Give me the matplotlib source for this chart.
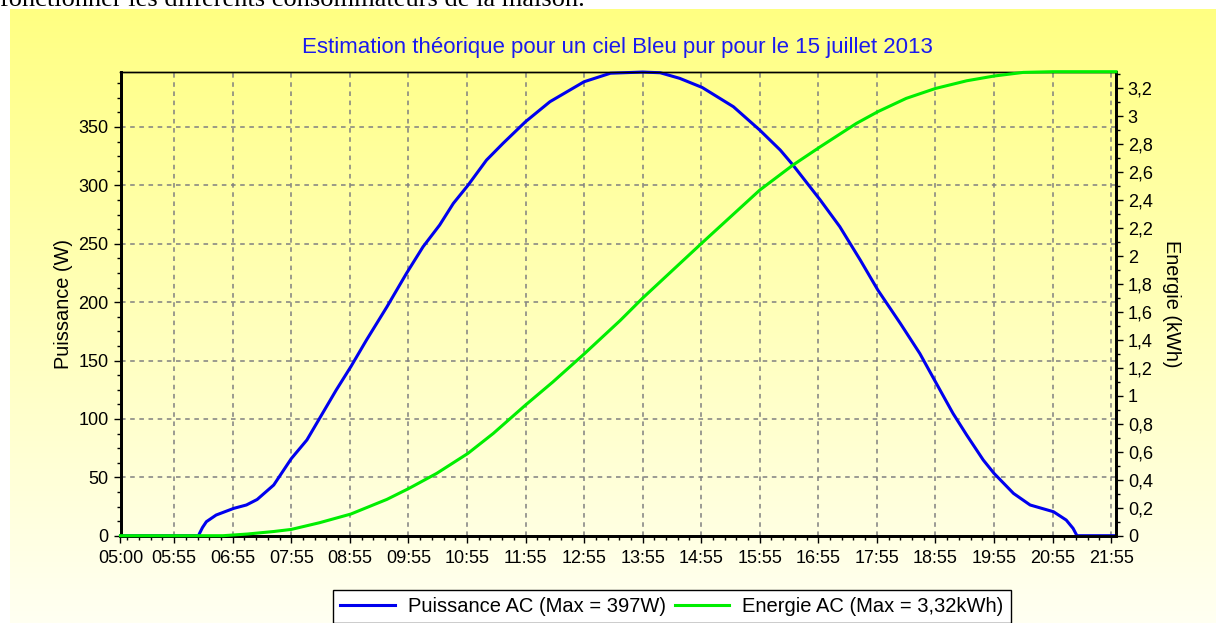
import numpy as np
import matplotlib
matplotlib.use("Agg")
import matplotlib.pyplot as plt
from matplotlib.ticker import FixedLocator, MultipleLocator, FuncFormatter
from matplotlib.lines import Line2D

plt.rcParams["font.family"] = ["Liberation Sans", "DejaVu Sans"]

# Puissance AC (W)
p_time = ["05:00", "06:20", "06:21", "06:24", "06:28", "06:38", "06:56", "07:09", "07:20",
          "07:37", "07:55", "08:11", "08:24", "08:41", "08:56", "09:12", "09:33", "09:53",
          "10:10", "10:27", "10:41", "10:56", "11:15", "11:32", "11:55", "12:20", "12:55",
          "13:22", "13:55", "14:13", "14:33", "14:56", "15:28", "15:55", "16:16", "16:29",
          "16:57", "17:17", "17:38", "17:56", "18:19", "18:39", "18:55", "19:13", "19:27",
          "19:44", "19:55", "20:15", "20:32", "20:56", "21:09", "21:16", "21:20", "22:00"]
p_watt = [0, 0, 2, 7, 12, 17.7, 23.4, 26.3, 31,
          43.4, 66, 82, 100.5, 124.7, 144.7, 167.5, 196, 224.6,
          247.4, 266, 284.5, 300, 321.6, 336, 354.5, 371.6, 388.7,
          396, 397, 396.4, 391.6, 383.8, 367.3, 347.3, 330.2, 317.4,
          287.4, 264.6, 236, 210.3, 181.8, 156, 131.8, 104.7, 86.2,
          64.8, 53.4, 36.2, 26.3, 20.5, 13.4, 6.3, 0, 0]

# Energie AC cumulée (kWh)
e_time = ["05:00", "06:45", "07:10", "07:37", "07:55", "08:24", "08:56", "09:33", "09:56",
          "10:24", "10:56", "11:22", "11:55", "12:23", "12:55", "13:32", "13:55", "14:56",
          "15:55", "16:29", "16:57", "17:34", "17:56", "18:25", "18:55", "19:27", "19:55",
          "20:25", "20:55", "22:00"]
e_kwh = [0, 0, 0.012, 0.03, 0.045, 0.093, 0.155, 0.26, 0.34,
         0.446, 0.589, 0.732, 0.935, 1.10, 1.30, 1.54, 1.70, 2.096,
         2.473, 2.652, 2.783, 2.95, 3.034, 3.129, 3.20, 3.255, 3.289,
         3.315, 3.32, 3.32]

tick_labels = ["05:00", "05:55", "06:55", "07:55", "08:55", "09:55", "10:55", "11:55",
               "12:55", "13:55", "14:55", "15:55", "16:55", "17:55", "18:55", "19:55",
               "20:55", "21:55"]


def to_h(s):
    h, m = s.split(":")
    return int(h) + int(m) / 60.0


W, H = 1216, 623
fig = plt.figure(figsize=(W / 100, H / 100), dpi=100)
fig.patch.set_facecolor("white")

# fond jaune dégradé
bg = fig.add_axes([10 / W, 0, 1 - 10 / W, 1 - 9 / H], zorder=-5)
grad = np.linspace(0, 1, 256)[:, None]
top = np.array([255, 255, 130]) / 255
bot = np.array([255, 255, 242]) / 255
img = top[None, None, :] * (1 - grad[..., None]) + bot[None, None, :] * grad[..., None]
bg.imshow(img, aspect="auto", extent=[0, 1, 0, 1])
bg.axis("off")

# texte du document, coupé en haut comme sur la capture
fig.text(0 / W, 1 - 6 / H, "fonctionner les différents consommateurs de la maison.",
         family=["Liberation Serif", "DejaVu Serif"], fontsize=19, va="baseline", ha="left")

ax = fig.add_axes([120.5 / W, 1 - 535.7 / H, (1116 - 120.5) / W, (535.7 - 71.7) / H])
ax.patch.set_alpha(0)
ax2 = ax.twinx()
ax2.patch.set_alpha(0)

ax.plot([to_h(t) for t in p_time], p_watt, color="#0000ee", lw=2.2, clip_on=False, zorder=3)
ax2.plot([to_h(t) for t in e_time], e_kwh, color="#00ee00", lw=2.2, clip_on=False, zorder=3)

ax.set_xlim(5, 22)
ax.set_ylim(0, 397.3)
ax2.set_ylim(0, 3.32)

ax.xaxis.set_major_locator(FixedLocator([to_h(t) for t in tick_labels]))
ax.set_xticklabels(tick_labels)
minor_x = [to_h(tick_labels[1]) + k * 0.2 for k in range(-4, 16 * 5 + 1) if k % 5 != 0]
ax.xaxis.set_minor_locator(FixedLocator([m for m in minor_x if 5 < m < 22]))

ax.set_yticks([0, 50, 100, 150, 200, 250, 300, 350])
ax.yaxis.set_minor_locator(MultipleLocator(12.5))
ax2.yaxis.set_major_locator(MultipleLocator(0.2))
ax2.yaxis.set_minor_locator(MultipleLocator(0.1))
ax2.yaxis.set_major_formatter(FuncFormatter(lambda v, p: ("%g" % round(v, 1)).replace(".", ",")))

ax.grid(True, which="major", color="#808080", ls=(0, (3, 3)), lw=1.1)

for a in (ax, ax2):
    a.tick_params(which="major", direction="out", length=5, width=1, labelsize=13, colors="black")
    a.tick_params(which="minor", direction="out", length=3, width=1)
    for s in ("left", "right", "bottom"):
        a.spines[s].set_linewidth(2)
    a.spines["top"].set_linewidth(1)
ax.tick_params(axis="x", which="major", pad=5)

ax.set_ylabel("Puissance (W)", fontsize=14.4, labelpad=4)
ax2.set_ylabel("Energie (kWh)", fontsize=14.4, rotation=270, labelpad=20)

fig.text(617 / W, 1 - 47 / H, "Estimation théorique pour un ciel Bleu pur pour le 15 juillet 2013",
         color="#1a1aee", fontsize=16, ha="center", va="center")

handles = [Line2D([], [], color="#0000ee", lw=2.2), Line2D([], [], color="#00ee00", lw=2.2)]
leg = fig.legend(handles, ["Puissance AC (Max = 397W)", "Energie AC (Max = 3,32kWh)"],
                 loc="upper center", bbox_to_anchor=(672 / W, 1 - 590 / H), ncol=2,
                 fancybox=False, edgecolor="black", facecolor="white", framealpha=1,
                 fontsize=14.5, handlelength=2.7, columnspacing=0.45, borderpad=0.35,
                 handletextpad=0.65, borderaxespad=0)
leg.get_frame().set_linewidth(1)

fig.savefig("out.png", dpi=100)
